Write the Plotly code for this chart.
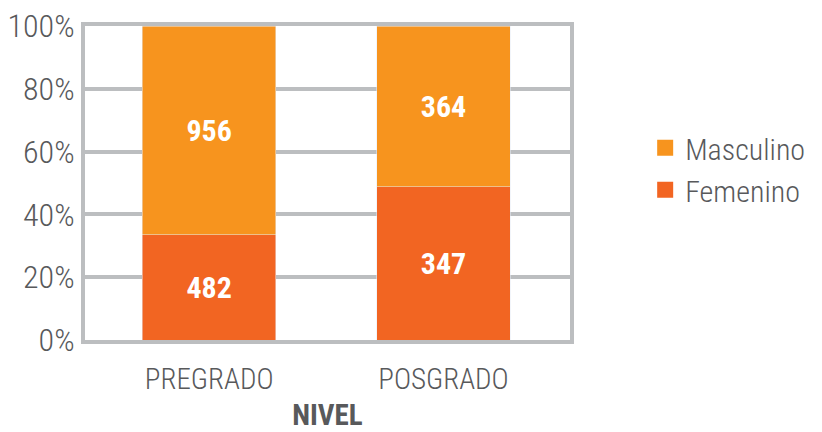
import plotly.graph_objects as go

niveles = ["PREGRADO", "POSGRADO"]
femenino = [482, 347]
masculino = [956, 364]
y_ticks = [0, 20, 40, 60, 80, 100]
y_tick_labels = ["0%", "20%", "40%", "60%", "80%", "100%"]

FONT = "Roboto Condensed, Liberation Sans, sans-serif"
GRAY = "#BCBEC0"
TEXT = "#58595B"
C_FEM = "#F26522"
C_MAS = "#F7941E"

label_font = dict(color="white", size=30, family=FONT, weight="bold")

fig = go.Figure()
fig.add_trace(go.Bar(
    x=niveles, y=femenino, name="Femenino", marker_color=C_FEM, showlegend=False,
    text=femenino, textposition="inside", insidetextanchor="middle", textfont=label_font,
))
fig.add_trace(go.Bar(
    x=niveles, y=masculino, name="Masculino", marker_color=C_MAS, showlegend=False,
    text=masculino, textposition="inside", insidetextanchor="middle", textfont=label_font,
))
# legend entries with bigger square swatches
for name, color in [("Masculino", C_MAS), ("Femenino", C_FEM)]:
    fig.add_trace(go.Scatter(
        x=[None], y=[None], mode="markers", name=name,
        marker=dict(symbol="square", size=24, color=color),
    ))

# page has an 8px body margin, so the figure is 8px smaller
fig.update_layout(
    width=814, height=424,
    margin=dict(l=77, r=248, t=18, b=92),
    barmode="stack", barnorm="percent", bargap=0.43,
    plot_bgcolor="white", paper_bgcolor="white",
    font=dict(family=FONT, color=TEXT, weight=300),
    legend=dict(
        x=1.155, y=0.545, xanchor="left", yanchor="middle", itemsizing="trace",
        traceorder="normal",
        font=dict(size=30, color=TEXT, family=FONT, weight=300),
    ),
    uniformtext=dict(mode="show", minsize=20),
)
fig.update_xaxes(
    range=[-0.53, 1.54], showline=True, linewidth=4, linecolor=GRAY, mirror=True,
    automargin=False, tickfont=dict(size=29, color=TEXT, weight=300), ticks="",
    ticklabelstandoff=10,
    title=dict(text="<b>NIVEL</b>", font=dict(size=29, color=TEXT, weight="bold"), standoff=15),
)
fig.update_yaxes(
    range=[0, 100], tickvals=y_ticks, ticktext=y_tick_labels,
    showline=True, linewidth=4, linecolor=GRAY, mirror=True, automargin=False,
    showgrid=True, gridwidth=4, gridcolor=GRAY, zeroline=False,
    tickfont=dict(size=32, color=TEXT, weight=300), ticks="", ticklabelstandoff=0,
    ticklabeloverflow="allow",
)

fig.write_html("out.html")
